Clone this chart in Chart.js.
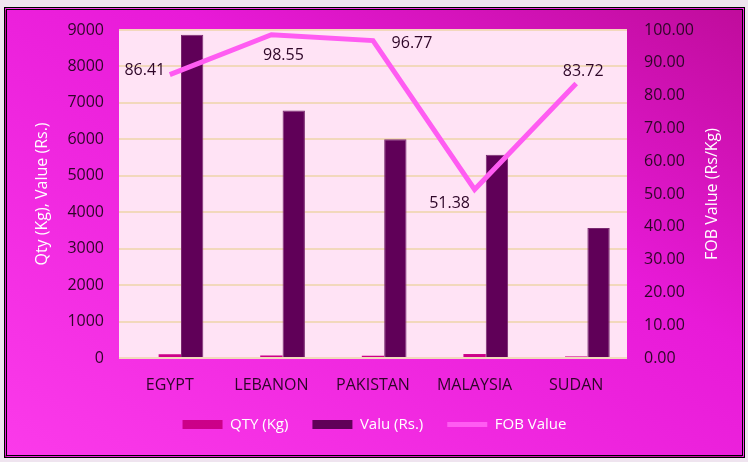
<!DOCTYPE html>
<html>
<head>
<meta charset="utf-8">
<script src="https://cdn.jsdelivr.net/npm/chart.js@4"></script>
<style>
  html, body { margin: 0; padding: 0; background: #efe4ef; }
  #caja {
    position: absolute; left: 4px; top: 7px;
    width: 735px; height: 445px;
    border: 3px double #000;
    background: linear-gradient(to bottom left, #c00c9c 0%, #e81ad8 38%, #fb3aea 100%);
  }
  canvas { display: block; }
</style>
</head>
<body>
<div id="caja"><canvas id="grafico" width="735" height="445"></canvas></div>
<script>
// Datos del gráfico
const paises = ['EGYPT', 'LEBANON', 'PAKISTAN', 'MALAYSIA', 'SUDAN'];
const cantidad = [103, 69, 62, 109, 43];          // QTY (Kg)
const valor = [8870, 6790, 6000, 5580, 3570];     // Valu (Rs.)
const fob = [86.41, 98.55, 96.77, 51.38, 83.72];  // FOB Value (Rs/Kg)
const posEtiquetas = ['left', 'belowRight', 'right', 'belowLeft', 'above'];

const fuente = "'Open Sans', sans-serif";
const colorTexto = '#2e0628';

// Fondo claro del área de trazado
const fondoArea = {
    id: 'fondoArea',
    beforeDraw(chart) {
        const { ctx, chartArea: a } = chart;
        ctx.save();
        ctx.fillStyle = '#ffe3f5';
        ctx.fillRect(a.left, a.top, a.right - a.left, a.bottom - a.top);
        ctx.restore();
    }
};

// Etiquetas de la línea FOB y título del eje derecho (leído de abajo hacia arriba)
const etiquetas = {
    id: 'etiquetas',
    afterDatasetsDraw(chart) {
        const ctx = chart.ctx;
        const meta = chart.getDatasetMeta(0);
        const desp = {
            left: [-25, -4], belowRight: [12, 21], right: [39, 3],
            belowLeft: [-25, 14], above: [7, -12]
        };
        ctx.save();
        ctx.font = '16px ' + fuente;
        ctx.fillStyle = colorTexto;
        ctx.textAlign = 'center';
        ctx.textBaseline = 'middle';
        meta.data.forEach((p, i) => {
            const d = desp[posEtiquetas[i]];
            ctx.fillText(fob[i].toFixed(2), p.x + d[0], p.y + d[1]);
        });

        const a = chart.chartArea;
        ctx.translate(chart.width - 30, (a.top + a.bottom) / 2);
        ctx.rotate(-Math.PI / 2);
        ctx.fillStyle = '#ffffff';
        ctx.fillText('FOB Value (Rs/Kg)', 0, 0);
        ctx.restore();
    }
};

const ordenLeyenda = ['QTY (Kg)', 'Valu (Rs.)', 'FOB Value'];

new Chart(document.getElementById('grafico'), {
    data: {
        labels: paises,
        datasets: [
            {
                type: 'line', label: 'FOB Value', data: fob, yAxisID: 'y2',
                borderColor: '#ff5cf2', backgroundColor: '#ff5cf2',
                borderWidth: 5, pointRadius: 0, order: 0
            },
            { type: 'bar', label: '', data: paises.map(() => null), order: 1 },
            {
                type: 'bar', label: 'QTY (Kg)', data: cantidad, yAxisID: 'y',
                backgroundColor: '#cc0088', order: 1
            },
            {
                type: 'bar', label: 'Valu (Rs.)', data: valor, yAxisID: 'y',
                backgroundColor: '#600058', borderColor: '#7a2a70', borderWidth: 1, order: 1
            }
        ]
    },
    options: {
        responsive: false,
        animation: false,
        layout: { padding: { top: 20, bottom: 13, left: 0, right: 0 } },
        datasets: { bar: { categoryPercentage: 0.66, barPercentage: 1.0 } },
        plugins: {
            tooltip: { enabled: false },
            legend: {
                position: 'bottom',
                labels: {
                    color: '#ffffff',
                    font: { family: fuente, size: 15 },
                    boxWidth: 40, boxHeight: 9,
                    usePointStyle: true, pointStyleWidth: 40,
                    padding: 24,
                    generateLabels: chart => {
                        const base = Chart.defaults.plugins.legend.labels.generateLabels(chart);
                        return base.map(it => {
                            const ds = chart.data.datasets[it.datasetIndex];
                            if (ds.type === 'line') {
                                it.pointStyle = 'line';
                                it.strokeStyle = ds.borderColor;
                                it.lineWidth = 5;
                            } else {
                                it.pointStyle = 'rect';
                                it.lineWidth = 0;
                            }
                            return it;
                        });
                    },
                    filter: item => item.text !== '',
                    sort: (a, b) => ordenLeyenda.indexOf(a.text) - ordenLeyenda.indexOf(b.text)
                }
            }
        },
        scales: {
            x: {
                grid: { display: false },
                border: { display: false },
                ticks: { color: colorTexto, font: { family: fuente, size: 16 }, padding: 10 },
                afterFit: s => { s.height = 35; }
            },
            y: {
                position: 'left', min: 0, max: 9000,
                ticks: {
                    stepSize: 1000, color: colorTexto, font: { family: fuente, size: 16 }, padding: 15,
                    callback: v => String(v)
                },
                grid: { color: '#f2d8bc', lineWidth: 2, drawTicks: false },
                border: { display: false },
                title: {
                    display: true, text: 'Qty (Kg), Value (Rs.)', color: '#ffffff',
                    font: { family: fuente, size: 16 }, padding: { top: 26, bottom: 0 }
                },
                afterFit: s => { s.width = 112; s.paddingTop = 0; s.paddingBottom = 0; }
            },
            y2: {
                position: 'right', min: 0, max: 100,
                ticks: {
                    stepSize: 10, color: colorTexto, font: { family: fuente, size: 16 }, padding: 17,
                    callback: v => v.toFixed(2)
                },
                grid: { display: false, drawTicks: false },
                border: { display: false },
                afterFit: s => { s.width = 115; s.paddingTop = 0; s.paddingBottom = 0; }
            }
        }
    },
    plugins: [fondoArea, etiquetas]
});
</script>
</body>
</html>
